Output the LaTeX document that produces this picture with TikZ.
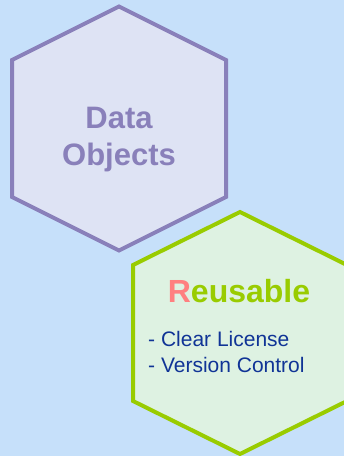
\documentclass[tikz,border=0pt]{standalone}
\usepackage{fontspec}
\setmainfont{Liberation Sans}
\definecolor{bgblue}{RGB}{198,224,250}
\definecolor{hexpurple}{RGB}{137,128,186}
\definecolor{purplefill}{RGB}{222,227,244}
\definecolor{hexgreen}{RGB}{153,204,0}
\definecolor{greenfill}{RGB}{222,242,226}
\definecolor{salmon}{RGB}{255,128,128}
\definecolor{navy}{RGB}{16,52,150}
\tikzset{
  hexborder/.style={line width=4pt, line join=miter},
  titletext/.style={font=\bfseries\fontsize{31}{37}\selectfont, text=hexpurple, anchor=base, inner sep=0pt},
  headtext/.style={font=\bfseries\fontsize{32}{38}\selectfont, anchor=base, inner sep=0pt},
  itemtext/.style={font=\fontsize{21}{26}\selectfont, text=navy, anchor=base west, inner sep=0pt}
}
\begin{document}
\begin{tikzpicture}[x=1pt, y=-1pt]
  % canvas
  \fill[bgblue] (0,0) rectangle (344,456);
  \useasboundingbox (0,0) rectangle (344,456);
  \clip (0,0) rectangle (344,456);
  % upper hexagon
  \draw[hexborder, draw=hexpurple, fill=purplefill]
    (119,6.5) -- (226,60) -- (226,197) -- (119,250.5) -- (12,197) -- (12,60) -- cycle;
  % lower hexagon
  \draw[hexborder, draw=hexgreen, fill=greenfill]
    (240,212) -- (347,265) -- (347,401) -- (240,454) -- (133,401) -- (133,265) -- cycle;
  % labels
  \node[titletext] (data) at (119,128) {Data};
  \node[titletext] (objects) at (119,165) {Objects};
  \node[headtext] (reusable) at (239,302) {\textcolor{salmon}{R}\textcolor{hexgreen}{eusable}};
  \node[itemtext] (license) at (148,346) {- Clear License};
  \node[itemtext] (version) at (148,372) {- Version Control};
\end{tikzpicture}
\end{document}
